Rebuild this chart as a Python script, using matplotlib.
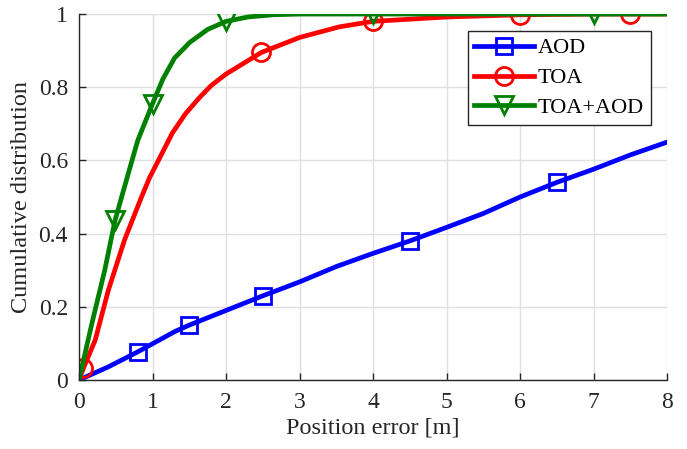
import numpy as np
import matplotlib
matplotlib.use("Agg")
import matplotlib.pyplot as plt

# curve samples
x_aod = [0, 0.4, 0.8, 1.3, 1.5, 2.0, 2.5, 3.0, 3.5, 4.0, 4.5, 5.0, 5.5, 6.0, 6.5, 7.0, 7.5, 8.0]
y_aod = [0, 0.036, 0.077, 0.132, 0.15, 0.19, 0.23, 0.268, 0.31, 0.346, 0.38, 0.417, 0.455, 0.50, 0.54, 0.576, 0.615, 0.65]

x_toa = [0, 0.06, 0.22, 0.40, 0.62, 0.85, 0.96, 1.08, 1.27, 1.45, 1.64, 1.8, 2.0, 2.48, 3.0, 3.54, 4.0, 5.0, 6.0, 7.0, 7.5, 8.0]
y_toa = [0, 0.032, 0.109, 0.246, 0.383, 0.50, 0.553, 0.60, 0.675, 0.728, 0.772, 0.805, 0.836, 0.895, 0.936, 0.965, 0.98, 0.992, 0.998, 1.0, 1.0, 1.0]

x_both = [0, 0.17, 0.35, 0.49, 0.67, 0.8, 1.0, 1.14, 1.3, 1.51, 1.75, 2.0, 2.3, 2.64, 3.0, 4.0, 5.0, 6.0, 7.0, 8.0]
y_both = [0, 0.15, 0.30, 0.436, 0.564, 0.655, 0.755, 0.822, 0.88, 0.923, 0.958, 0.98, 0.992, 0.998, 1.0, 1.0, 1.0, 1.0, 1.0, 1.0]

# where the markers sit on each curve
mk_aod = [0.8, 1.5, 2.5, 4.5, 6.5]
mk_toa = [0.06, 2.48, 4.0, 6.0, 7.5]
mk_both = [0.49, 1.0, 2.0, 4.0, 7.0]

plt.rcParams['font.family'] = ['Liberation Serif', 'DejaVu Serif']

fig = plt.figure(figsize=(6.87, 4.49), dpi=100)
ax = fig.add_axes([0.115, 0.1537, 0.856, 0.815])

def idx(xs, marks):
    return [xs.index(m) for m in marks]

kw = dict(lw=3.4, mew=2.0, mfc='none')
ax.plot(x_aod, y_aod, color='#0000ff', marker='s', ms=11.5, markevery=idx(x_aod, mk_aod), label='AOD', **kw)
ax.plot(x_toa, y_toa, color='#ff0000', marker='o', ms=13, markevery=idx(x_toa, mk_toa), label='TOA', **kw)
ax.plot(x_both, y_both, color='#008000', marker='v', ms=13, markevery=idx(x_both, mk_both), label='TOA+AOD', **kw)

ax.set_xlim(0, 8)
ax.set_ylim(0, 1)
ax.set_xticks(range(0, 9))
ax.set_yticks([0, 0.2, 0.4, 0.6, 0.8, 1.0])
ax.set_yticklabels(['0', '0.2', '0.4', '0.6', '0.8', '1'])
ax.grid(True, color='#e0e0e0', lw=1.0)
ax.set_axisbelow(True)
ax.spines['top'].set_visible(False)
ax.spines['right'].set_visible(False)
for s in ('left', 'bottom'):
    ax.spines[s].set_color('#262626')
    ax.spines[s].set_linewidth(1.0)
ax.tick_params(direction='in', length=5, width=1.0, colors='#262626', labelsize=17)
ax.tick_params(axis='x', pad=9)
ax.tick_params(axis='y', pad=8)

ax.set_xlabel('Position error [m]', fontsize=17.5, color='#262626', labelpad=3)
ax.set_ylabel('Cumulative distribution', fontsize=17.5, color='#262626', labelpad=5)

leg = ax.legend(loc='upper right', bbox_to_anchor=(0.972, 0.953), fontsize=16, fancybox=False,
                framealpha=1, edgecolor='#262626', handlelength=2.7, handletextpad=0.15,
                borderpad=0.3, labelspacing=0.42, borderaxespad=0)
leg.get_frame().set_linewidth(1.0)

fig.savefig('out.png', dpi=100)
